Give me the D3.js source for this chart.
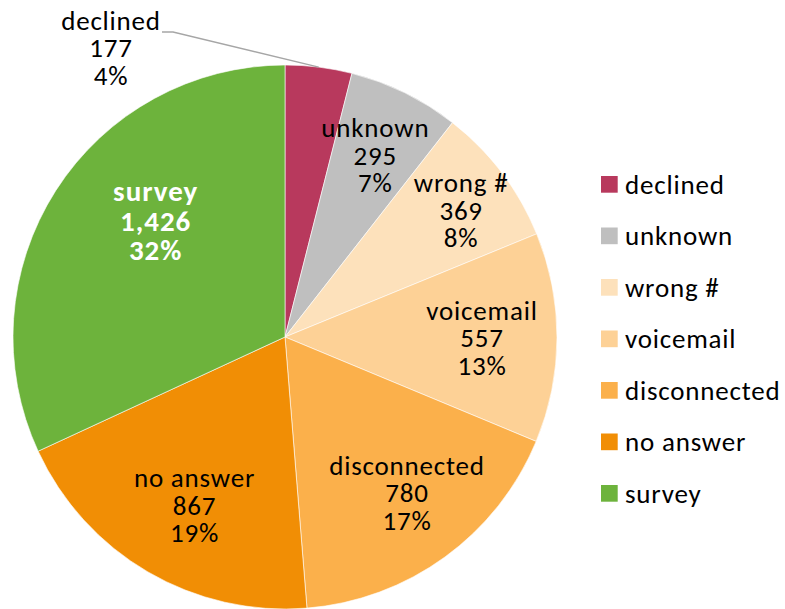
<!DOCTYPE html>
<html><head><meta charset="utf-8">
<script src="https://cdn.jsdelivr.net/npm/d3@7"></script>
<style>body{margin:0;background:#fff}svg{display:block}text{font-family:Carlito,Lato,"Open Sans",sans-serif}</style>
</head><body><svg id="c" width="785" height="609"></svg>
<script>
const categories = ["declined","unknown","wrong #","voicemail","disconnected","no answer","survey"];
const values = [177,295,369,557,780,867,1426];
const percents = ["4%","7%","8%","13%","17%","19%","32%"];
const colors = ["#B8395D","#BFBFBF","#FDE1BB","#FDD196","#FBB04B","#F18E05","#6DB33C"];

const svg = d3.select("#c");
const cx = 285, cy = 337, R = 272;
const data = categories.map((c,i)=>({cat:c,val:values[i],pct:percents[i],col:colors[i]}));
const pie = d3.pie().value(d=>d.val).sort(null);
const arcs = pie(data);
const arc = d3.arc().innerRadius(0).outerRadius(R);
const g = svg.append("g").attr("transform",`translate(${cx},${cy})`);
g.selectAll("path").data(arcs).join("path").attr("d",arc).attr("fill",d=>d.data.col)
  .attr("stroke","#fff").attr("stroke-width",0.6);

const fmt = d3.format(",");
const deg = Math.PI/180;
const labelR = [0, 203, 217, 197, 198, 191, 174];
const angleAdj = [0, 0.3, 1.4, 0.1, -2.0, -2.0, 9.4];
arcs.forEach((a,i)=>{
  let x, y;
  if (i===0) { x = 111 - cx; y = 48 - cy; }
  else {
    const ang = (a.startAngle + a.endAngle)/2 + angleAdj[i]*deg;
    const r = labelR[i];
    x = r*Math.sin(ang); y = -r*Math.cos(ang);
  }
  const isSurvey = a.data.cat==="survey";
  const lh = isSurvey ? 29.5 : 27.5;
  const fs = isSurvey ? 29 : 27;
  [a.data.cat, fmt(a.data.val), a.data.pct].forEach((s,k)=>{
    g.append("text").attr("text-anchor","middle")
      .attr("font-size", fs)
      .attr("letter-spacing", isSurvey ? 1 : 0.8)
      .attr("font-weight", isSurvey?"bold":"normal")
      .attr("fill", isSurvey?"#fff":"#000")
      .attr("x",x).attr("y",y + (k-1)*lh).attr("dy","0.35em").text(s);
  });
});
// leader line for declined
const dA = arcs[0];
const midA = (dA.startAngle+dA.endAngle)/2;
const ex = R*Math.sin(midA), ey = -R*Math.cos(midA);
g.append("polyline").attr("points",[[162-cx,32-cy],[173-cx,32-cy],[ex,ey]].map(p=>p.join(",")).join(" "))
  .attr("fill","none").attr("stroke","#A6A6A6").attr("stroke-width",1.3);

// legend
const lg = svg.append("g").attr("transform","translate(601,184.3)");
data.forEach((d,i)=>{
  const row = lg.append("g").attr("transform",`translate(0,${i*51.5})`);
  row.append("rect").attr("x",0).attr("y",-8.3).attr("width",16.7).attr("height",16.7).attr("fill",d.col);
  row.append("text").attr("x",24).attr("y",0).attr("dy","0.35em").attr("font-size",27).attr("letter-spacing",0.8).attr("fill","#000").text(d.cat);
});
</script></body></html>
